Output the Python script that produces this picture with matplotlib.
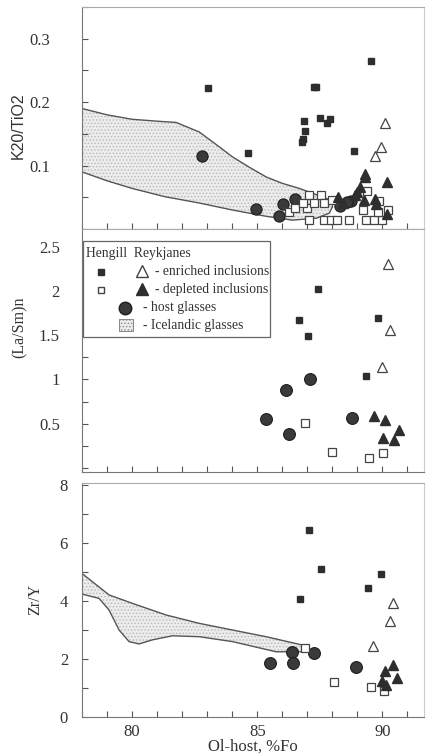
import matplotlib
matplotlib.use("Agg")
import matplotlib.pyplot as plt
from matplotlib.ticker import MultipleLocator, FixedLocator, NullFormatter
from matplotlib.patches import Rectangle

plt.rcParams['font.family'] = ['Liberation Serif', 'DejaVu Serif']
plt.rcParams['hatch.color'] = '#b0b0b0'
plt.rcParams['hatch.linewidth'] = 0.6

# ---------------- K2O/TiO2 panel ----------------
k_sq_x = [83.04, 84.64, 86.88, 86.92, 86.84, 86.80, 87.28, 87.36, 87.52, 87.80, 87.92, 88.88, 89.56]
k_sq_y = [0.222, 0.120, 0.170, 0.155, 0.142, 0.137, 0.224, 0.224, 0.175, 0.167, 0.173, 0.123, 0.265]
k_osq_x = [87.08, 87.68, 87.96, 88.20, 88.68, 89.36, 89.68, 90.00,
           86.28, 86.52, 87.00, 87.08, 87.28, 87.56, 87.68, 88.00, 89.40, 89.24,
           89.88, 89.84, 86.84, 90.24]
k_osq_y = [0.014, 0.014, 0.014, 0.014, 0.014, 0.014, 0.014, 0.014,
           0.027, 0.033, 0.033, 0.054, 0.041, 0.054, 0.041, 0.046, 0.060, 0.030,
           0.044, 0.027, 0.041, 0.030]
k_otri_x = [90.12, 89.96, 89.72]
k_otri_y = [0.167, 0.129, 0.115]
k_tri_x = [90.20, 89.32, 89.30, 89.12, 89.00, 88.92, 88.24, 89.28, 89.72, 89.76, 90.20, 88.44]
k_tri_y = [0.074, 0.087, 0.082, 0.066, 0.058, 0.054, 0.051, 0.046, 0.047, 0.039, 0.023, 0.041]
k_circ_x = [82.80, 84.96, 85.88, 86.04, 86.52, 88.32, 88.76, 88.60]
k_circ_y = [0.115, 0.031, 0.020, 0.039, 0.048, 0.036, 0.044, 0.042]
k_band_up_x = [78.0, 79.0, 80.0, 81.0, 81.76, 82.68, 83.4, 84.0, 84.7, 85.36, 86.0, 86.68, 87.3, 87.76, 88.0]
k_band_up_y = [0.190, 0.180, 0.173, 0.170, 0.168, 0.153, 0.132, 0.114, 0.097, 0.082, 0.072, 0.064, 0.055, 0.048, 0.045]
k_band_lo_x = [78.0, 79.0, 80.0, 81.3, 82.68, 84.0, 85.36, 86.4, 87.36, 87.88, 88.0]
k_band_lo_y = [0.090, 0.076, 0.064, 0.051, 0.041, 0.030, 0.020, 0.014, 0.017, 0.025, 0.035]

# ---------------- (La/Sm)n panel ----------------
l_sq_x = [87.44, 86.65, 87.04, 89.84, 89.36]
l_sq_y = [2.02, 1.67, 1.49, 1.70, 1.04]
l_otri_x = [90.24, 90.31, 89.99]
l_otri_y = [2.30, 1.56, 1.14]
l_circ_x = [85.35, 86.15, 86.28, 87.09, 88.77]
l_circ_y = [0.55, 0.88, 0.38, 1.00, 0.56]
l_osq_x = [86.89, 87.97, 89.48, 90.01]
l_osq_y = [0.51, 0.18, 0.11, 0.17]
l_tri_x = [89.65, 90.11, 90.01, 90.45, 90.65]
l_tri_y = [0.59, 0.54, 0.34, 0.32, 0.43]

# ---------------- Zr/Y panel ----------------
z_sq_x = [87.08, 87.55, 89.95, 89.44, 86.72]
z_sq_y = [6.45, 5.09, 4.92, 4.44, 4.08]
z_otri_x = [90.44, 90.31, 89.64]
z_otri_y = [3.92, 3.32, 2.45]
z_circ_x = [85.52, 86.37, 86.41, 87.25, 88.93]
z_circ_y = [1.85, 2.25, 1.85, 2.21, 1.74]
z_osq_x = [86.91, 88.05, 89.56, 90.08]
z_osq_y = [2.39, 1.22, 1.02, 0.91]
z_tri_x = [90.09, 90.43, 89.99, 90.15, 90.60]
z_tri_y = [1.60, 1.79, 1.25, 1.10, 1.36]
z_band_up_x = [78.0, 79.08, 80.01, 81.35, 82.68, 84.01, 85.35, 86.81]
z_band_up_y = [4.95, 4.21, 3.92, 3.52, 3.23, 3.00, 2.77, 2.48]
z_band_lo_x = [78.0, 78.68, 79.08, 79.48, 79.88, 80.28, 80.81, 81.61, 82.68, 84.01, 85.75, 86.81]
z_band_lo_y = [4.24, 4.09, 3.69, 3.00, 2.60, 2.52, 2.66, 2.80, 2.77, 2.60, 2.25, 2.25]

dark = '#2e2e2e'
spine_c = '#777777'
txt_c = '#333333'

fig = plt.figure(figsize=(4.28, 7.55), dpi=100)
W, H = 428.0, 755.0
L, R = 82.0, 424.0


def fx(x):
    return x / W


def fy(y):
    return 1 - y / H


def make_ax(top, bot):
    return fig.add_axes([L / W, 1 - bot / H, (R - L) / W, (bot - top) / H])


ax1 = make_ax(7, 229)
ax2 = make_ax(229, 472)
ax3 = make_ax(483, 717)


def band(ax, ux, uy, lx, ly):
    px = list(ux) + list(lx[::-1])
    py = list(uy) + list(ly[::-1])
    ax.fill(px, py, facecolor='#ececec', edgecolor='#b8b8b8', hatch='.....', linewidth=0, zorder=1)
    ax.plot(ux, uy, color='#555555', lw=1.0, zorder=2)
    ax.plot(lx, ly, color='#555555', lw=1.0, zorder=2)
    ax.plot([ux[-1], lx[-1]], [uy[-1], ly[-1]], color='#555555', lw=0.8, zorder=2)


def points(ax, sq, osq, otri, tri, circ, big=1.0):
    ax.plot(*circ, 'o', ms=8.5 * big, color='#3a3a3a', mec='#1e1e1e', mew=0.8, ls='none', zorder=3)
    ax.plot(*sq, 's', ms=4.6, color=dark, mec=dark, ls='none', zorder=4)
    ax.plot(*osq, 's', ms=5.6, mfc='white', mec='#444444', mew=0.9, ls='none', zorder=4)
    ax.plot(*otri, '^', ms=7.5, mfc='white', mec='#444444', mew=0.9, ls='none', zorder=4)
    ax.plot(*tri, '^', ms=7.0, color=dark, mec=dark, ls='none', zorder=4)


band(ax1, k_band_up_x, k_band_up_y, k_band_lo_x, k_band_lo_y)
points(ax1, (k_sq_x, k_sq_y), (k_osq_x, k_osq_y), (k_otri_x, k_otri_y),
       (k_tri_x, k_tri_y), (k_circ_x, k_circ_y), big=0.95)

points(ax2, (l_sq_x, l_sq_y), (l_osq_x, l_osq_y), (l_otri_x, l_otri_y),
       (l_tri_x, l_tri_y), (l_circ_x, l_circ_y))

band(ax3, z_band_up_x, z_band_up_y, z_band_lo_x, z_band_lo_y)
points(ax3, (z_sq_x, z_sq_y), (z_osq_x, z_osq_y), (z_otri_x, z_otri_y),
       (z_tri_x, z_tri_y), (z_circ_x, z_circ_y))

# axes styling
for ax in (ax1, ax2, ax3):
    ax.set_xlim(78, 91.66)
    ax.xaxis.set_major_locator(MultipleLocator(5))
    ax.xaxis.set_minor_locator(MultipleLocator(1))
    ax.tick_params(which='both', direction='in', colors='#555555', labelcolor=txt_c,
                   labelsize=12, width=0.8, length=4)
    ax.tick_params(axis='x', which='both', top=False)
    ax.tick_params(axis='y', which='both', right=False)
    for s in ax.spines.values():
        s.set_color(spine_c)
        s.set_linewidth(0.8)
    ax.spines['right'].set_color('#cccccc')
    ax.spines['top'].set_color('#aaaaaa')

ax1.set_ylim(0, 0.35)
ax1.yaxis.set_major_locator(FixedLocator([0.1, 0.2, 0.3]))
ax1.yaxis.set_minor_locator(MultipleLocator(0.05))
ax1.xaxis.set_major_formatter(NullFormatter())
ax1.tick_params(axis='y', pad=23)
ax1.set_ylabel('K20/TiO2', family=['Liberation Sans', 'DejaVu Sans'], fontsize=11.5, color=txt_c)
ax1.yaxis.set_label_coords(fx(26), fy(126), transform=fig.transFigure)

ax2.set_ylim(-0.045, 2.7)
ax2.yaxis.set_major_locator(FixedLocator([0.5, 1, 1.5, 2, 2.5]))
ax2.yaxis.set_minor_locator(MultipleLocator(0.25))
ax2.xaxis.set_major_formatter(NullFormatter())
ax2.set_yticklabels(['0.5', '1', '1.5', '2', '2.5'])
ax2.tick_params(axis='y', pad=16)
ax2.set_ylabel('(La/Sm)n', fontsize=11.5, color=txt_c)
ax2.yaxis.set_label_coords(fx(28), fy(327), transform=fig.transFigure)

ax3.set_ylim(0, 8.07)
ax3.yaxis.set_major_locator(FixedLocator([0, 2, 4, 6, 8]))
ax3.yaxis.set_minor_locator(MultipleLocator(1))
ax3.tick_params(axis='y', pad=10)
ax3.tick_params(axis='x', which='major', pad=5)
ax3.set_ylabel('Zr/Y', fontsize=11.5, color=txt_c)
ax3.yaxis.set_label_coords(fx(43), fy(599), transform=fig.transFigure)
ax3.set_xlabel('Ol-host, %Fo', fontsize=12, color=txt_c, labelpad=-1)

# legend drawn by hand in figure pixels
tf = fig.transFigure
fig.patches.append(Rectangle((fx(83), fy(337)), fx(270) - fx(83), fy(241) - fy(337),
                             transform=tf, facecolor='white', edgecolor='#666666', lw=0.9, zorder=5))
lt = dict(transform=tf, fontsize=9.8, color=txt_c, va='center', zorder=6)
fig.text(fx(86), fy(254), 'Hengill  Reykjanes', **lt)
fig.text(fx(155), fy(272), '- enriched inclusions', **lt)
fig.text(fx(155), fy(290), '- depleted inclusions', **lt)
fig.text(fx(143), fy(308), '- host glasses', **lt)
fig.text(fx(143), fy(325), '- Icelandic glasses', **lt)
mk = dict(transform=tf, ls='none', zorder=7)
fig.lines.append(plt.Line2D([fx(101)], [fy(272)], marker='s', ms=4.6, color=dark, **mk))
fig.lines.append(plt.Line2D([fx(101)], [fy(290)], marker='s', ms=5.0, mfc='white', mec='#444444', **mk))
fig.lines.append(plt.Line2D([fx(142)], [fy(271)], marker='^', ms=8, mfc='white', mec='#444444', **mk))
fig.lines.append(plt.Line2D([fx(142)], [fy(289)], marker='^', ms=8, color=dark, **mk))
fig.lines.append(plt.Line2D([fx(125)], [fy(308)], marker='o', ms=9, color='#3a3a3a', mec='#1e1e1e', **mk))
fig.patches.append(Rectangle((fx(119), fy(331)), fx(133) - fx(119), fy(319) - fy(331), transform=tf,
                             facecolor='#ececec', edgecolor='#888888', hatch='.....', lw=0.7, zorder=6))

fig.savefig('out.png', dpi=100)
